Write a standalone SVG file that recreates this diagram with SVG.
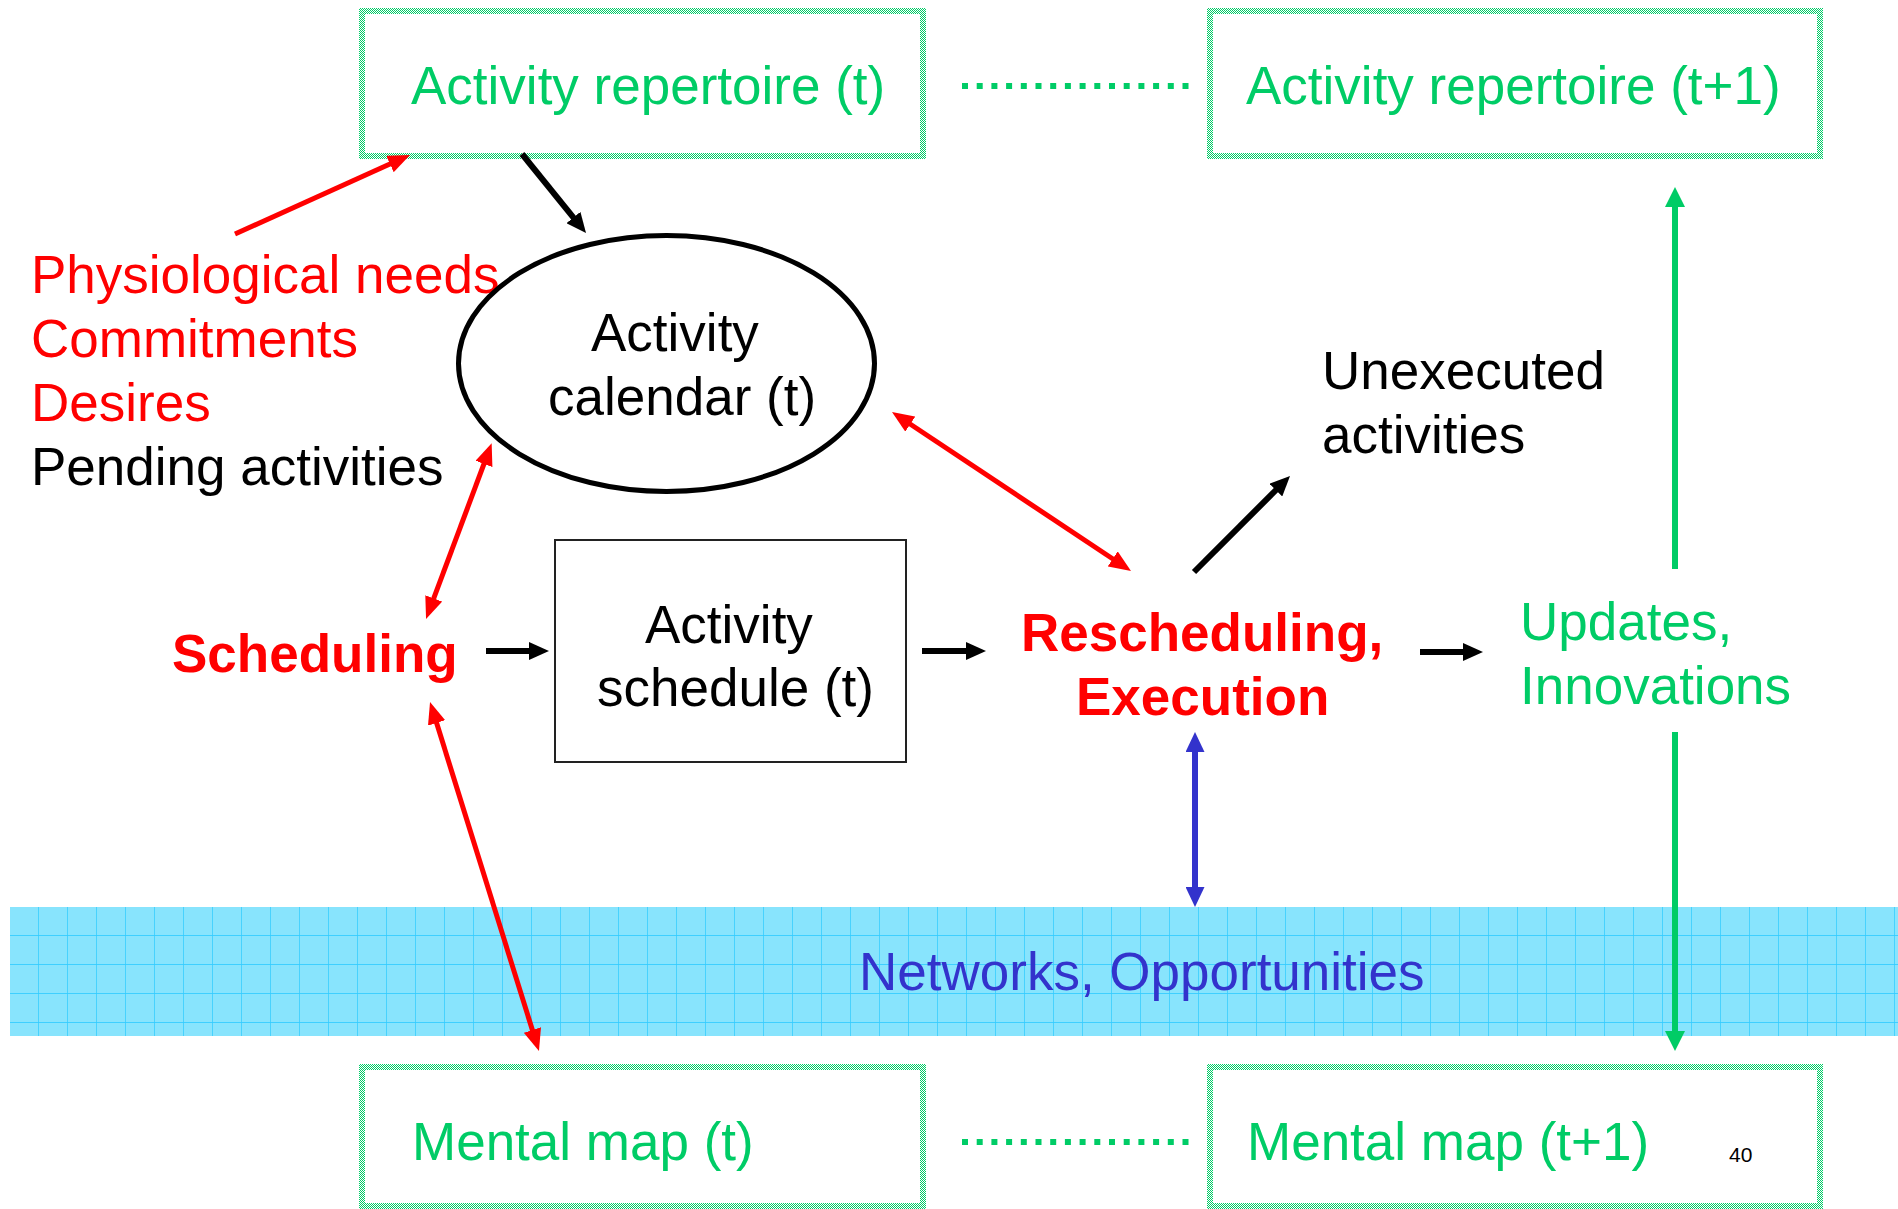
<svg xmlns="http://www.w3.org/2000/svg" width="1898" height="1209" viewBox="0 0 1898 1209">
  <style>
    text { font-family: "Liberation Sans", Arial, sans-serif; font-size: 53px; }
    .g { fill: #00cc66; }
    .r { fill: #ff0000; }
    .k { fill: #000000; }
    .b { fill: #3333cc; }
    .bold { font-weight: bold; }
    .gbox { fill: #ffffff; stroke: url(#checker); stroke-width: 6; }
    .red { stroke: #ff0000; stroke-width: 5; fill: none; }
    .blk { stroke: #000000; stroke-width: 6; fill: none; }
    .grn { stroke: #00cc66; stroke-width: 6; fill: none; }
    .blu { stroke: #3333cc; stroke-width: 6; fill: none; }
    .dots { stroke: #00cc66; stroke-width: 6; stroke-dasharray: 6 8.7; fill: none; }
  </style>
  <defs>
    <pattern id="checker" patternUnits="userSpaceOnUse" x="0" y="0" width="2" height="2">
      <rect x="0" y="0" width="2" height="2" fill="#ffffff"/>
      <rect x="0" y="0" width="1" height="1" fill="#00cc66"/>
      <rect x="1" y="1" width="1" height="1" fill="#00cc66"/>
    </pattern>
    <marker id="hr" markerUnits="userSpaceOnUse" markerWidth="22" markerHeight="18" refX="3" refY="9" orient="auto-start-reverse">
      <path d="M0,0 L22,9 L0,18 z" fill="#ff0000"/>
    </marker>
    <marker id="hk" markerUnits="userSpaceOnUse" markerWidth="20" markerHeight="18" refX="3" refY="9" orient="auto-start-reverse">
      <path d="M0,0 L20,9 L0,18 z" fill="#000000"/>
    </marker>
    <marker id="hg" markerUnits="userSpaceOnUse" markerWidth="20" markerHeight="20" refX="3" refY="10" orient="auto-start-reverse">
      <path d="M0,0 L20,10 L0,20 z" fill="#00cc66"/>
    </marker>
    <marker id="hb" markerUnits="userSpaceOnUse" markerWidth="20" markerHeight="19" refX="3" refY="9.5" orient="auto-start-reverse">
      <path d="M0,0 L20,9.5 L0,19 z" fill="#3333cc"/>
    </marker>
    <pattern id="grid" patternUnits="userSpaceOnUse" x="10" y="907" width="29" height="29">
      <rect x="0" y="0" width="29" height="29" fill="#88e4fd"/>
      <rect x="28" y="0" width="1.5" height="29" fill="#33ccff" opacity="0.75"/>
      <rect x="0" y="28" width="29" height="1.5" fill="#33ccff" opacity="0.85"/>
    </pattern>
  </defs>

  <g id="band-networks">
    <rect x="10" y="907" width="1888" height="129" fill="url(#grid)"/>
    <text class="b" x="859" y="990">Networks, Opportunities</text>
  </g>

  <g id="node-repertoire-t">
    <rect class="gbox" x="362" y="11" width="561" height="145"/>
    <text class="g" x="411" y="104">Activity repertoire (t)</text>
  </g>
  <g id="node-repertoire-t1">
    <rect class="gbox" x="1210" y="11" width="610" height="145"/>
    <text class="g" x="1246" y="104">Activity repertoire (t+1)</text>
  </g>
  <g id="node-mentalmap-t">
    <rect class="gbox" x="362" y="1067" width="561" height="139"/>
    <text class="g" x="412" y="1160">Mental map (t)</text>
  </g>
  <g id="node-mentalmap-t1">
    <rect class="gbox" x="1210" y="1067" width="610" height="139"/>
    <text class="g" x="1247" y="1160">Mental map (t+1)</text>
  </g>

  <g id="node-needs">
    <text class="r" x="31" y="293">Physiological needs</text>
    <text class="r" x="31" y="357">Commitments</text>
    <text class="r" x="31" y="421">Desires</text>
    <text class="k" x="31" y="485">Pending activities</text>
  </g>

  <g id="node-calendar">
    <ellipse cx="666.5" cy="363.5" rx="208" ry="128" fill="none" stroke="#000" stroke-width="5"/>
    <text class="k" x="591" y="351">Activity</text>
    <text class="k" x="548" y="415">calendar (t)</text>
  </g>

  <g id="node-schedule">
    <rect x="555" y="540" width="351" height="222" fill="none" stroke="#222" stroke-width="2"/>
    <text class="k" x="645" y="643">Activity</text>
    <text class="k" x="597" y="706">schedule (t)</text>
  </g>

  <g id="node-scheduling">
    <text class="r bold" x="172" y="672">Scheduling</text>
  </g>

  <g id="node-rescheduling">
    <text class="r bold" x="1021" y="651">Rescheduling,</text>
    <text class="r bold" x="1076" y="715">Execution</text>
  </g>

  <g id="node-unexecuted">
    <text class="k" x="1322" y="389">Unexecuted</text>
    <text class="k" x="1322" y="453">activities</text>
  </g>

  <g id="node-updates">
    <text class="g" x="1520" y="640">Updates,</text>
    <text class="g" x="1520" y="704">Innovations</text>
  </g>

  <g id="page-number">
    <text class="k" x="1729" y="1162" style="font-size:21px">40</text>
  </g>

  <g id="connectors">
    <line class="dots" x1="962" y1="86" x2="1192" y2="86"/>
    <line class="dots" x1="962" y1="1142" x2="1192" y2="1142"/>

    <line class="red" x1="235" y1="234" x2="392.7" y2="162.8" marker-end="url(#hr)"/>
    <line class="red" x1="485" y1="461.1" x2="432.7" y2="601.2" marker-start="url(#hr)" marker-end="url(#hr)"/>
    <line class="red" x1="435.7" y1="720.1" x2="533.3" y2="1032.9" marker-start="url(#hr)" marker-end="url(#hr)"/>
    <line class="red" x1="907.8" y1="422.5" x2="1115.2" y2="560.5" marker-start="url(#hr)" marker-end="url(#hr)"/>

    <line class="blk" x1="522" y1="154" x2="575.3" y2="219.8" marker-end="url(#hk)"/>
    <line class="blk" x1="486" y1="651" x2="532" y2="651" marker-end="url(#hk)"/>
    <line class="blk" x1="922" y1="651" x2="969" y2="651" marker-end="url(#hk)"/>
    <line class="blk" x1="1194" y1="572" x2="1278" y2="488" marker-end="url(#hk)"/>
    <line class="blk" x1="1420" y1="652" x2="1466" y2="652" marker-end="url(#hk)"/>

    <line class="grn" x1="1675" y1="569" x2="1675" y2="204" marker-end="url(#hg)"/>
    <line class="grn" x1="1675" y1="732" x2="1675" y2="1034" marker-end="url(#hg)"/>

    <line class="blu" x1="1195" y1="749" x2="1195" y2="890" marker-start="url(#hb)" marker-end="url(#hb)"/>
  </g>
</svg>
